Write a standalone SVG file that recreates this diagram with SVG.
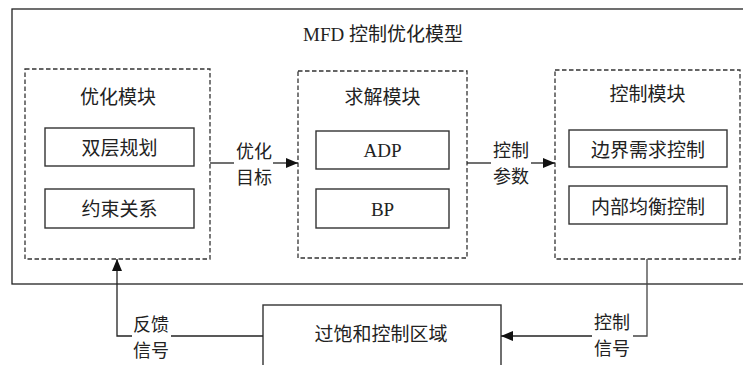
<svg xmlns="http://www.w3.org/2000/svg" width="743" height="365" viewBox="0 0 743 365">
<style>
text{font-family:"Liberation Serif","Noto Sans CJK SC",serif;fill:#222;text-anchor:middle}
.t{font-size:19px}
.l{font-size:18px}
.outer{fill:none;stroke:#222;stroke-width:1.3}
.dash{fill:none;stroke:#333;stroke-width:1.3;stroke-dasharray:4.5 2.5}
.box{fill:#fff;stroke:#333;stroke-width:1.4}
.c{fill:none;stroke:#222;stroke-width:1.3}
</style>
<defs>
<marker id="ah" viewBox="0 0 12 10" refX="12" refY="5" markerWidth="12" markerHeight="10" markerUnits="userSpaceOnUse" orient="auto">
<path d="M0,0 L12,5 L0,10 Z" fill="#111"/>
</marker>
</defs>
<rect width="743" height="365" fill="#fff"/>
<g id="model">
<rect class="outer" x="12" y="9" width="740" height="275"/>
<text class="t" x="383" y="41">MFD 控制优化模型</text>
</g>
<g id="opt-module">
<rect class="dash" x="25" y="69" width="185" height="190"/>
<text class="t" x="118" y="104">优化模块</text>
</g>
<g id="bilevel">
<rect class="box" x="45" y="128" width="149" height="38"/>
<text class="t" x="119.5" y="155">双层规划</text>
</g>
<g id="constraint">
<rect class="box" x="45" y="189" width="149" height="39"/>
<text class="t" x="119.5" y="216">约束关系</text>
</g>
<g id="solve-module">
<rect class="dash" x="298" y="71" width="169" height="187"/>
<text class="t" x="382.5" y="104">求解模块</text>
</g>
<g id="adp">
<rect class="box" x="316" y="131" width="133" height="38"/>
<text class="t" x="382.5" y="157">ADP</text>
</g>
<g id="bp">
<rect class="box" x="316" y="189" width="133" height="39"/>
<text class="t" x="382.5" y="216">BP</text>
</g>
<g id="ctrl-module">
<rect class="dash" x="555" y="70" width="185" height="189"/>
<text class="t" x="647.5" y="101">控制模块</text>
</g>
<g id="boundary">
<rect class="box" x="569" y="130" width="158" height="37"/>
<text class="t" x="648" y="157">边界需求控制</text>
</g>
<g id="internal">
<rect class="box" x="569" y="186" width="158" height="38"/>
<text class="t" x="648" y="214">内部均衡控制</text>
</g>
<g id="region">
<rect class="box" x="263" y="305" width="238" height="70"/>
<text class="t" x="381" y="341">过饱和控制区域</text>
</g>
<g id="connectors">
<path class="c" d="M210,163 H234"/>
<path class="c" d="M273,163 H298" marker-end="url(#ah)"/>
<text class="l" x="254" y="158">优化</text>
<text class="l" x="254" y="184">目标</text>
<path class="c" d="M467,163 H491"/>
<path class="c" d="M531,163 H555" marker-end="url(#ah)"/>
<text class="l" x="511" y="157">控制</text>
<text class="l" x="511" y="183">参数</text>
<path class="c" d="M263,336 H171"/>
<path class="c" d="M132,336 H117 V259" marker-end="url(#ah)"/>
<text class="l" x="151" y="331">反馈</text>
<text class="l" x="151" y="357">信号</text>
<path class="c" d="M647,259 V336 H633" style="stroke:#444"/>
<path class="c" d="M592,336 H501" marker-end="url(#ah)"/>
<text class="l" x="612" y="329">控制</text>
<text class="l" x="612" y="355">信号</text>
</g>
</svg>
